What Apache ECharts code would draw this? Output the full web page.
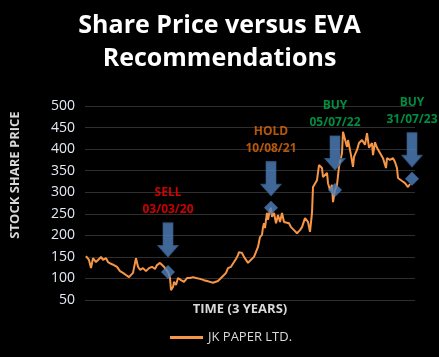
<!DOCTYPE html>
<html>
<head>
<meta charset="utf-8">
<script src="https://cdn.jsdelivr.net/npm/echarts@6/dist/echarts.min.js"></script>
<style>
html,body{margin:0;padding:0;background:#000;}
#c{width:439px;height:357px;}
</style>
</head>
<body>
<div id="c"></div>
<script>
// trading-day index (approx.) and share price
const days = [1,4,6,8,11,14,16,18,21,23,26,29,32,35,38,41,44,46,48,50,51,53,55,58,61,64,67,70,72,75,77,79,81,83,85,86,88,89,91,93,96,99,102,105,108,111,115,117,119,122,125,128,130,133,136,139,141,143,146,149,151,153,154,157,159,161,163,165,167,169,171,173,174,175,177,178,179,180,181,182,183,185,186,187,189,191,193,195,197,199,201,204,206,209,212,213,215,217,220,223,225,227,228,232,234,237,238,242,243,245,247,248,250,252,254,257,258,260,262,263,266,268,269,272,274,277,280,282,284,287,288,290,292,295,298,301,302,305,308,310,312,313,317,320,323,325];
const prices = [152,143,124,147,138,145,150,143,147,138,134,131,127,117,113,108,103,99,113,136,147,127,120,124,117,124,127,122,131,136,138,127,124,115,101,73,80,92,85,101,96,92,101,101,103,101,99,103,96,94,92,90,90,94,101,108,113,124,127,138,145,154,161,159,150,152,136,141,145,150,152,173,177,196,201,219,228,217,236,252,236,259,264,243,252,228,247,231,252,231,228,228,219,212,205,201,212,219,240,231,208,252,312,328,363,356,335,345,321,305,317,277,305,317,359,391,440,437,405,421,386,359,382,398,414,421,410,437,403,414,386,416,403,391,379,356,379,375,379,370,356,333,326,321,312,319];
const seriesName = 'JK PAPER LTD.';
const yTicks = [50,100,150,200,250,300,350,400,450,500];

// EVA recommendations
const eventDays = [83,186,250,327];
const eventPrices = [115,264,305,331];
const eventActions = ['SELL','HOLD','BUY','BUY'];
const eventDates = ['03/03/20','10/08/21','05/07/22','31/07/23'];

const actionColors = {SELL:'#FF0000', HOLD:'#E46C0A', BUY:'#00B050'};
const arrowOffsets = [-32,-29,-37,-29];
const arrowPath = 'path://M5,0 L15,0 L15,24 L20,24 L10,36 L0,24 L5,24 Z';

const chart = echarts.init(document.getElementById('c'));
const txt = '#D9D9D9';
const font = 'Open Sans';

chart.setOption({
  backgroundColor:'#000',
  animation:false,
  textStyle:{fontFamily:font},
  title:{
    text:'Share Price versus EVA\nRecommendations',
    left:'center', top:4,
    textStyle:{color:'#fff', fontSize:25, fontWeight:'bold', lineHeight:33, fontFamily:font}
  },
  grid:{left:85, right:24, top:106, bottom:57},
  xAxis:{
    type:'value', min:0, max:330,
    axisLine:{show:false}, axisTick:{show:false}, axisLabel:{show:false}, splitLine:{show:false}
  },
  yAxis:{
    type:'value', min:yTicks[0], max:yTicks[yTicks.length-1], interval:50,
    axisLine:{show:false}, axisTick:{show:false},
    axisLabel:{color:'#E4EAF4', fontSize:14, margin:10, fontFamily:font},
    splitLine:{lineStyle:{color:'#2E2E2E', width:1}}
  },
  legend:{
    data:[seriesName], left:165, top:326,
    icon:'rect', itemWidth:33, itemHeight:3,
    textStyle:{color:txt, fontSize:13, fontFamily:font}
  },
  graphic:[
    {type:'text', x:15, y:175, rotation:Math.PI/2, style:{text:'STOCK SHARE PRICE', fill:txt, font:'bold 13px "Open Sans"', textAlign:'center', textVerticalAlign:'middle'}},
    {type:'text', x:240, y:309, style:{text:'TIME (3 YEARS)', fill:txt, font:'bold 13px "Open Sans"', textAlign:'center', textVerticalAlign:'middle'}}
  ],
  series:[
    {
      name:seriesName, type:'line',
      data:days.map((d,i)=>[d,prices[i]]),
      showSymbol:false, lineStyle:{color:'#F79646', width:2}, itemStyle:{color:'#F79646'}, z:2
    },
    {
      type:'scatter', symbol:'diamond', symbolSize:14,
      data:eventDays.map((d,i)=>[d,eventPrices[i]]),
      itemStyle:{color:'#4F81BD'}, z:3
    },
    {
      type:'scatter', symbol:arrowPath, symbolSize:[20,34],
      data:eventDays.map((d,i)=>({
        value:[d,eventPrices[i]],
        symbolOffset:[0,arrowOffsets[i]],
        label:{color:actionColors[eventActions[i]]}
      })),
      itemStyle:{color:'#4F81BD', borderColor:'#385D8A', borderWidth:1},
      label:{
        show:true, position:'top', distance:4, fontSize:12, fontWeight:'bold', lineHeight:17, fontFamily:font,
        formatter:p=>eventActions[p.dataIndex]+'\n'+eventDates[p.dataIndex]
      },
      z:4
    }
  ]
});
</script>
</body>
</html>
